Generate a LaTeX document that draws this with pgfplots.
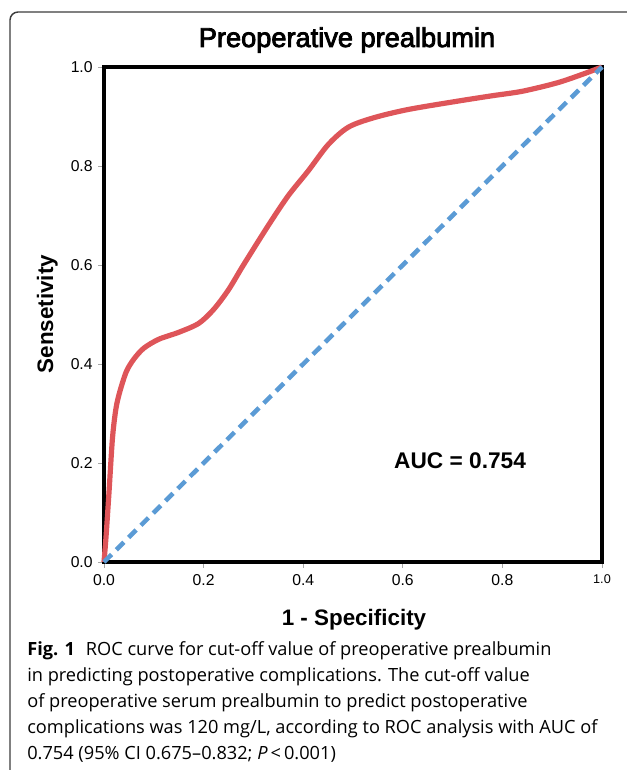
\documentclass[border=0pt]{standalone}
\usepackage{pgfplots}
\pgfplotsset{compat=1.18}
\usepackage{fontspec}
\setmainfont{Liberation Sans}
\newfontfamily\titlefont[FakeBold=3]{Liberation Sans}
\newfontfamily\capfont{Open Sans}

\definecolor{rocred}{RGB}{222,85,89}
\definecolor{rocblue}{RGB}{91,155,213}
\definecolor{framegray}{RGB}{60,60,60}

\begin{document}
\begin{tikzpicture}
% page = 627 x 770 px, 1px = 0.75pt, y runs downwards
\path[use as bounding box] (0,0) rectangle (470.25pt,-577.5pt);
\draw[framegray, line width=1.1pt, rounded corners=6pt]
  (7.5pt,-590pt) -- (7.5pt,-9pt) -- (480pt,-9pt);

\node[anchor=base, inner sep=0pt] at (260.25pt,-35.25pt)
  {\titlefont\fontsize{20.4}{24}\selectfont Preoperative prealbumin};

\begin{axis}[
  at={(78pt,-421.5pt)}, anchor=south west,
  scale only axis, width=373.5pt, height=371.25pt,
  xmin=0, xmax=1, ymin=0, ymax=1,
  axis line style={line width=2.3pt},
  tick align=outside, tick pos=left, major tick length=4.5pt,
  tick style={gray!70, line width=0.5pt},
  xtick={0,0.2,0.4,0.6,0.8,1},
  ytick={0,0.2,0.4,0.6,0.8,1},
  xticklabels={0.0,0.2,0.4,0.6,0.8,{\fontsize{9.5}{11}\selectfont 1.0}},
  yticklabels={0.0,0.2,0.4,0.6,0.8,1.0},
  /pgf/number format/assume math mode=true,
  tick label style={font=\fontsize{11.8}{13}\selectfont},
  xticklabel style={yshift=-1.5pt},
  yticklabel style={xshift=-0.5pt},
  clip=false,
]
\addplot[rocred, line width=3.9pt, smooth, tension=0.5] coordinates {
  (0,0) (0.004,0.05) (0.01,0.14) (0.017,0.25) (0.024,0.31) (0.032,0.345)
  (0.045,0.385) (0.06,0.41) (0.08,0.432) (0.11,0.450) (0.15,0.464)
  (0.19,0.482) (0.22,0.51) (0.25,0.55) (0.28,0.60) (0.33,0.68)
  (0.37,0.74) (0.41,0.79) (0.45,0.843) (0.49,0.878) (0.54,0.897)
  (0.61,0.914) (0.71,0.931) (0.78,0.942) (0.84,0.951) (0.91,0.968)
  (0.96,0.985) (1,1)
};
\addplot[rocblue, line width=3.4pt, dash pattern=on 8pt off 5pt] coordinates {
  (0,0) (1,1)
};
\node[font=\bfseries\fontsize{17}{20}\selectfont] at (axis cs:0.715,0.204) {AUC = 0.754};
\end{axis}

\node[anchor=base, rotate=90, inner sep=0pt, font=\bfseries\fontsize{16.8}{20}\selectfont]
  at (39.75pt,-235.5pt) {Sensetivity};
\node[anchor=base, inner sep=0pt, font=\bfseries\fontsize{16.8}{20}\selectfont]
  at (265.5pt,-468.75pt) {1 - Specificity};

\begin{scope}[every node/.style={anchor=base west, inner sep=0pt,
    font=\capfont\fontsize{13.65}{15}\selectfont}]
\node at (20.25pt,-491.25pt) {\textbf{Fig. 1}\hspace{0.6em}ROC curve for cut-off value of preoperative prealbumin};
\node at (20.25pt,-510.75pt) {in predicting postoperative complications. The cut-off value};
\node at (20.25pt,-530.25pt) {of preoperative serum prealbumin to predict postoperative};
\node at (20.25pt,-549.75pt) {complications was 120 mg/L, according to ROC analysis with AUC of};
\node at (20.25pt,-569.25pt) {0.754 (95\% CI 0.675–0.832; \textit{P}\,<\,0.001)};
\end{scope}
\end{tikzpicture}
\end{document}
